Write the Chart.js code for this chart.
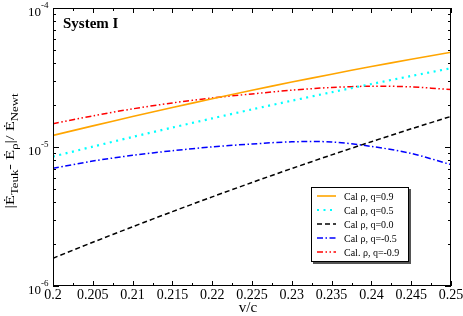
<!DOCTYPE html>
<html>
<head>
<meta charset="utf-8">
<script src="https://cdn.jsdelivr.net/npm/chart.js@4.4.0/dist/chart.umd.min.js"></script>
<style>
  body { margin: 0; background: #fff; }
  canvas { display: block; }
</style>
</head>
<body>
<canvas id="plot" width="463" height="316"></canvas>
<script>
// v/c sample points
const vc = [0.2, 0.205, 0.21, 0.215, 0.22, 0.225, 0.23, 0.235, 0.24, 0.245, 0.25];

// |Edot_Teuk - Edot_rho| / Edot_Newt
const q09  = [1.211e-5, 1.419e-5, 1.656e-5, 1.923e-5, 2.224e-5, 2.559e-5, 2.931e-5, 3.342e-5, 3.792e-5, 4.281e-5, 4.810e-5];
const q05  = [8.54e-6, 1.006e-5, 1.181e-5, 1.380e-5, 1.607e-5, 1.864e-5, 2.153e-5, 2.477e-5, 2.839e-5, 3.243e-5, 3.687e-5];
const q00  = [1.585e-6, 2.063e-6, 2.668e-6, 3.428e-6, 4.377e-6, 5.555e-6, 7.003e-6, 8.773e-6, 1.092e-5, 1.351e-5, 1.660e-5];
const qm05 = [7.03e-6, 7.92e-6, 8.71e-6, 9.40e-6, 1.002e-5, 1.051e-5, 1.090e-5, 1.087e-5, 1.010e-5, 8.99e-6, 7.47e-6];
const qm09 = [1.471e-5, 1.674e-5, 1.881e-5, 2.075e-5, 2.254e-5, 2.409e-5, 2.565e-5, 2.681e-5, 2.739e-5, 2.707e-5, 2.588e-5];

const labels = ['Cal \u03c1, q=0.9', 'Cal \u03c1, q=0.5', 'Cal \u03c1, q=0.0', 'Cal \u03c1, q=-0.5', 'Cal. \u03c1, q=-0.9'];
const xTicks = [0.2, 0.205, 0.21, 0.215, 0.22, 0.225, 0.23, 0.235, 0.24, 0.245, 0.25];
const yDecades = [-6, -5, -4];

const SERIF = '"Liberation Serif", "DejaVu Serif", serif';

function pts(ys) {
    return vc.map((v, i) => ({x: v, y: ys[i]}));
}

function line(label, ys, color, dash, width) {
    return {
        label: label,
        data: pts(ys),
        borderColor: color,
        backgroundColor: color,
        borderDash: dash,
        borderWidth: width,
        pointRadius: 0,
        tension: 0.3,
        fill: false
    };
}

const framePlugin = {
    id: 'frame',
    afterDatasetsDraw(chart) {
        const ctx = chart.ctx;
        const a = chart.chartArea;
        const x = chart.scales.x, y = chart.scales.y;
        ctx.save();
        ctx.strokeStyle = '#000';
        ctx.fillStyle = '#000';
        ctx.lineWidth = 1;
        ctx.setLineDash([]);

        // frame
        ctx.strokeRect(a.left + 0.5, a.top + 0.5, a.right - a.left - 1, a.bottom - a.top - 1);

        // x ticks (inward, top and bottom)
        ctx.beginPath();
        for (let i = 0; i <= 20; i++) {
            const px = Math.round(x.getPixelForValue(0.2 + i * 0.0025)) + 0.5;
            const len = i % 2 === 0 ? 5 : 3;
            ctx.moveTo(px, a.bottom); ctx.lineTo(px, a.bottom - len);
            ctx.moveTo(px, a.top); ctx.lineTo(px, a.top + len);
        }
        // y ticks (inward, left and right)
        for (let e = -6; e <= -4; e++) {
            for (let m = 1; m <= 9; m++) {
                if (e === -4 && m > 1) break;
                const py = Math.round(y.getPixelForValue(m * Math.pow(10, e))) + 0.5;
                const len = m === 1 ? 6 : 3;
                ctx.moveTo(a.left, py); ctx.lineTo(a.left + len, py);
                ctx.moveTo(a.right, py); ctx.lineTo(a.right - len, py);
            }
        }
        ctx.stroke();

        // x tick labels
        ctx.font = '14px ' + SERIF;
        ctx.textAlign = 'center';
        ctx.textBaseline = 'alphabetic';
        xTicks.forEach(v => {
            ctx.fillText(String(Number(v.toFixed(3))), x.getPixelForValue(v), a.bottom + 13);
        });

        // y tick labels 10^n
        yDecades.forEach(e => {
            const py = y.getPixelForValue(Math.pow(10, e));
            ctx.font = '13px ' + SERIF;
            ctx.textAlign = 'right';
            ctx.fillText('10', a.left - 12, py + 8);
            ctx.font = '9px ' + SERIF;
            ctx.textAlign = 'left';
            ctx.fillText(String(e), a.left - 12, py);
        });

        // x title
        ctx.font = '15px ' + SERIF;
        ctx.textAlign = 'center';
        ctx.fillText('v/c', (a.left + a.right) / 2 - 4, a.bottom + 26);

        // y title with subscripts
        const segs = [
            ['|\u0116', 13, 0], ['Teuk', 10, 4],
            ['- \u0116', 13, 0], ['\u03c1', 10, 4],
            ['|/ \u0116', 13, 0], ['Newt', 10, 4]
        ];
        ctx.save();
        ctx.translate(14, (a.top + a.bottom) / 2 + 4);
        ctx.rotate(-Math.PI / 2);
        ctx.scale(1.28, 1);
        ctx.textAlign = 'left';
        let total = 0;
        segs.forEach(s => { ctx.font = s[1] + 'px ' + SERIF; total += ctx.measureText(s[0]).width; });
        let cx = -total / 2;
        segs.forEach(s => {
            ctx.font = s[1] + 'px ' + SERIF;
            ctx.fillText(s[0], cx, s[2]);
            cx += ctx.measureText(s[0]).width;
        });
        ctx.restore();

        // panel label
        ctx.font = 'bold 15px ' + SERIF;
        ctx.textAlign = 'left';
        ctx.fillText('System I', a.left + 10, a.top + 20);

        // legend box
        const lx = 311, ly = 187, lw = 98, lh = 75;
        ctx.fillStyle = '#555';
        ctx.fillRect(lx + 2, ly + 2, lw, lh);
        ctx.fillStyle = '#fff';
        ctx.fillRect(lx, ly, lw, lh);
        ctx.strokeRect(lx + 0.5, ly + 0.5, lw - 1, lh - 1);
        chart.data.datasets.forEach((ds, i) => {
            const ry = ly + 9 + i * 14;
            ctx.strokeStyle = ds.borderColor;
            ctx.lineWidth = ds.borderWidth;
            ctx.setLineDash(ds.borderDash);
            ctx.beginPath();
            ctx.moveTo(lx + 6, ry); ctx.lineTo(lx + 25, ry);
            ctx.stroke();
            ctx.setLineDash([]);
            ctx.fillStyle = '#000';
            ctx.font = '10px ' + SERIF;
            ctx.fillText(ds.label, lx + 33, ry + 3.5);
        });
        ctx.restore();
    }
};

new Chart(document.getElementById('plot').getContext('2d'), {
    type: 'line',
    data: {
        datasets: [
            line(labels[0], q09, '#ffa500', [], 1.6),
            line(labels[1], q05, '#00ffff', [2, 4.5], 2.2),
            line(labels[2], q00, '#000000', [5, 3], 1.5),
            line(labels[3], qm05, '#0000ff', [6, 2.5, 1.5, 2.5], 1.5),
            line(labels[4], qm09, '#ff0000', [6, 2.5, 1.5, 2.5, 1.5, 2.5], 1.5)
        ]
    },
    options: {
        responsive: false,
        devicePixelRatio: 1,
        animation: false,
        layout: { padding: { top: 8, right: 12, left: 0, bottom: 0 } },
        plugins: { legend: { display: false }, tooltip: { enabled: false } },
        scales: {
            x: {
                type: 'linear',
                min: 0.2,
                max: 0.25,
                grid: { display: false },
                border: { display: false },
                ticks: { display: false, stepSize: 0.005 },
                afterFit: s => { s.height = 30; }
            },
            y: {
                type: 'logarithmic',
                min: 1e-6,
                max: 1e-4,
                grid: { display: false },
                border: { display: false },
                ticks: { display: false },
                afterFit: s => { s.width = 53; }
            }
        }
    },
    plugins: [framePlugin]
});
</script>
</body>
</html>
